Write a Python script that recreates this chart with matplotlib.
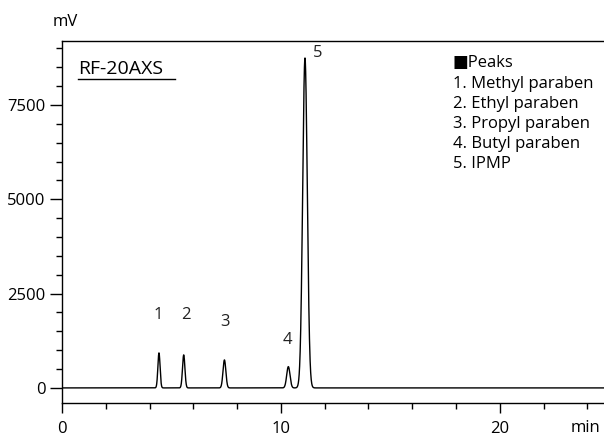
import numpy as np
import matplotlib.pyplot as plt
from matplotlib.ticker import MultipleLocator

plt.rcParams['font.family'] = ['Open Sans', 'DejaVu Sans']

# peak table
peak_no = ['1', '2', '3', '4', '5']
peak_rt = [4.43, 5.56, 7.42, 10.34, 11.10]        # min
peak_height = [928, 875, 742, 565, 8746]           # mV
peak_sigma = [0.05, 0.055, 0.065, 0.075, 0.105]    # min
label_x = [4.4, 5.65, 7.45, 10.3, 11.7]
label_y = [1935, 1935, 1760, 1270, 8880]
names = ['1. Methyl paraben', '2. Ethyl paraben', '3. Propyl paraben',
         '4. Butyl paraben', '5. IPMP']

t = np.linspace(0, 25, 5001)
signal = np.zeros_like(t)
for rt, h, s in zip(peak_rt, peak_height, peak_sigma):
    signal += h * np.exp(-0.5 * ((t - rt) / s) ** 2)

fig = plt.figure(figsize=(6.04, 4.37), dpi=100)
ax = fig.add_axes([62 / 604, 1 - 403 / 437, 1 - 62 / 604, (403 - 40.5) / 437])

ax.plot(t, signal, color='black', lw=1.0)
ax.set_xlim(0, 24.76)
ax.set_ylim(-400, 9210)

ax.spines['right'].set_visible(False)
for sp in ['left', 'bottom', 'top']:
    ax.spines[sp].set_linewidth(1.0)

ax.xaxis.set_major_locator(MultipleLocator(10))
ax.xaxis.set_minor_locator(MultipleLocator(2))
ax.yaxis.set_major_locator(MultipleLocator(2500))
ax.yaxis.set_minor_locator(MultipleLocator(500))
ax.tick_params(axis='y', which='major', length=9, width=1.0, labelsize=12, pad=3)
ax.tick_params(axis='y', which='minor', length=4, width=1.0)
ax.tick_params(axis='x', which='major', length=7, width=1.0, labelsize=12, pad=6)
ax.tick_params(axis='x', which='minor', length=4, width=1.0)
ax.set_xticks([0, 10, 20])
ax.set_yticks([0, 2500, 5000, 7500])

for lab, x, y in zip(peak_no, label_x, label_y):
    ax.text(x, y, lab, fontsize=12, ha='center', va='center', color='#222222')

fig.text(65 / 604, 1 - 22 / 437, 'mV', fontsize=12, ha='center', va='center')
fig.text(585 / 604, 1 - 428 / 437, 'min', fontsize=12, ha='center', va='center')

fig.text(78 / 604, 1 - 69 / 437, 'RF-20AXS', fontsize=14, ha='left', va='center')
fig.add_artist(plt.Line2D([78 / 604, 175 / 604], [1 - 79 / 437, 1 - 79 / 437],
                          color='black', lw=1.0))

fig.text(453 / 604, 1 - 63 / 437, '\u25a0Peaks', fontsize=12, ha='left', va='center')
for i, nm in enumerate(names):
    fig.text(453 / 604, 1 - (84 + 20 * i) / 437, nm, fontsize=12, ha='left', va='center')

fig.savefig('out.png', dpi=100)
